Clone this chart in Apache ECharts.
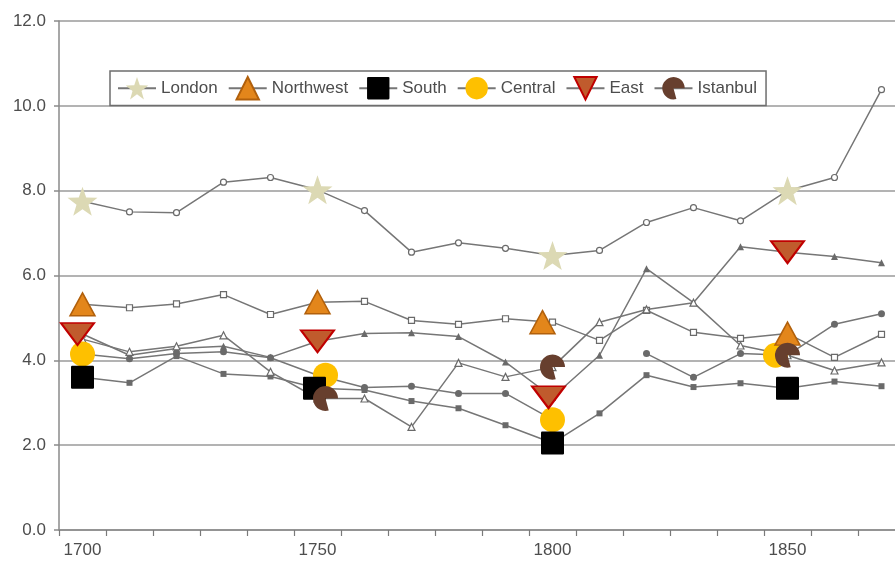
<!DOCTYPE html>
<html>
<head>
<meta charset="utf-8">
<title>Real wages 1700–1870</title>
<script src="https://cdn.jsdelivr.net/npm/echarts@6/dist/echarts.min.js"></script>
<style>
  html, body { margin: 0; padding: 0; background: #fff; }
  #chart { width: 895px; height: 561px; }
</style>
</head>
<body>
<div id="chart"></div>
<script>
// ---- data -------------------------------------------------------------
const years = ['1700','1710','1720','1730','1740','1750','1760','1770','1780',
               '1790','1800','1810','1820','1830','1840','1850','1860','1870'];
const labelYears = ['1700','1750','1800','1850'];
const yTicks = [0, 2, 4, 6, 8, 10, 12];

const london    = [7.75, 7.50, 7.48, 8.20, 8.31, 8.02, 7.53, 6.55, 6.77, 6.64, 6.47, 6.59, 7.25, 7.60, 7.29, 8.00, 8.31, 10.38];
const northwest = [5.32, 5.24, 5.33, 5.55, 5.08, 5.37, 5.39, 4.94, 4.85, 4.98, 4.90, 4.47, 5.18, 4.66, 4.52, 4.63, 4.07, 4.61];
const south     = [3.60, 3.47, 4.10, 3.68, 3.62, 3.34, 3.30, 3.04, 2.87, 2.47, 2.05, 2.75, 3.65, 3.37, 3.46, 3.34, 3.50, 3.39];
const central   = [4.15, 4.04, 4.16, 4.20, 4.06, 3.65, 3.36, 3.39, 3.22, 3.22, 2.60, null, 4.16, 3.60, 4.16, 4.12, 4.85, 5.10];
const east      = [4.62, 4.12, 4.28, 4.33, 4.07, 4.45, 4.63, 4.65, 4.56, 3.96, 3.13, 4.12, 6.16, 5.36, 6.68, 6.55, 6.45, 6.30];
const istanbul  = [4.50, 4.20, 4.33, 4.59, 3.73, 3.10, 3.10, 2.43, 3.94, 3.61, 3.84, 4.90, 5.20, 5.36, 4.35, 4.12, 3.76, 3.95];

// years that carry the large region marker
const keyYears      = ['1700','1750','1800','1850'];
const istanbulYears = ['1750','1800','1850'];

// ---- symbols & styles ---------------------------------------------------
const STAR = 'path://M0 -10L2.35 -3.24L9.51 -3.09L3.8 1.24L5.88 8.09L0 4L-5.88 8.09L-3.8 1.24L-9.51 -3.09L-2.35 -3.24Z';
const PIE  = 'path://M0 0L2.588 9.659A10 10 0 1 1 10 0Z';
const DOWN = 'path://M0 0L34 0L17 22Z';
const SQUARE = 'path://M1 0L19 0Q20 0 20 1L20 19Q20 20 19 20L1 20Q0 20 0 19L0 1Q0 0 1 0Z';

const FONT = 'Liberation Sans, Arial, sans-serif';
const TEXT = '#4d4d4d';
const LINE = '#767676';
const MARK = '#6a6a6a';

const looks = {
  London:    { big: { symbol: STAR, size: [30, 29], color: '#dcd9b4' },
               small: { symbol: 'circle', size: 6, hollow: true }, z: 4 },
  Northwest: { big: { symbol: 'triangle', size: [25, 23], color: '#e3861b', border: '#b1600c', bw: 1.5 },
               small: { symbol: 'rect', size: 6, hollow: true }, z: 4 },
  South:     { big: { symbol: SQUARE, size: 23, color: '#000000' },
               small: { symbol: 'rect', size: 6, hollow: false }, z: 4 },
  Central:   { big: { symbol: 'circle', size: 25, color: '#fec000' },
               small: { symbol: 'circle', size: 7, hollow: false }, z: 3 },
  East:      { big: { symbol: DOWN, size: [33, 22], color: '#c05b2d', border: '#c00000', bw: 2 },
               small: { symbol: 'triangle', size: 7, hollow: false }, z: 4 },
  Istanbul:  { big: { symbol: PIE, size: 25, color: '#673f2e' },
               small: { symbol: 'triangle', size: 7, hollow: true }, z: 5 }
};

// small sideways shifts where the large markers sit next to each other
const nudges = {
  Northwest: { '1800': [-10, 0] },
  South:     { '1750': [-3, 0] },
  Central:   { '1750': [8, 0], '1850': [-12, 0] },
  East:      { '1700': [-5, 0], '1800': [-4, 0] },
  Istanbul:  { '1750': [8, 0] }
};

const regions = [
  { name: 'London',    values: london,    marked: keyYears },
  { name: 'Northwest', values: northwest, marked: keyYears },
  { name: 'South',     values: south,     marked: keyYears },
  { name: 'Central',   values: central,   marked: keyYears },
  { name: 'East',      values: east,      marked: keyYears },
  { name: 'Istanbul',  values: istanbul,  marked: istanbulYears }
];

// ---- series -------------------------------------------------------------
const lineSeries = regions.map(r => {
  const lk = looks[r.name];
  const sm = lk.small;
  const smallStyle = sm.hollow
    ? { color: '#ffffff', borderColor: MARK, borderWidth: 1.2 }
    : { color: MARK, borderColor: MARK, borderWidth: 0 };
  return {
    type: 'line',
    name: r.name,
    z: 2,
    silent: true,
    showAllSymbol: true,
    connectNulls: false,
    // series-level symbol is the region marker (used for the legend icon)
    symbol: lk.big.symbol,
    symbolSize: lk.big.size,
    itemStyle: { color: lk.big.color, borderColor: lk.big.border || lk.big.color, borderWidth: lk.big.bw || 0 },
    lineStyle: { color: LINE, width: 1.5 },
    data: r.values.map(v => v == null ? '-' : {
      value: v,
      symbol: sm.symbol,
      symbolSize: sm.size,
      itemStyle: smallStyle
    })
  };
});

const markerSeries = regions.map(r => {
  const lk = looks[r.name];
  const nd = nudges[r.name] || {};
  return {
    type: 'scatter',
    name: r.name,
    z: lk.z,
    silent: true,
    symbol: lk.big.symbol,
    symbolSize: lk.big.size,
    itemStyle: { color: lk.big.color, borderColor: lk.big.border || lk.big.color, borderWidth: lk.big.bw || 0, opacity: 1 },
    data: r.marked.map(y => ({
      value: [y, r.values[years.indexOf(y)]],
      symbolOffset: nd[y] || [0, 0]
    }))
  };
});

// ---- chart --------------------------------------------------------------
const chart = echarts.init(document.getElementById('chart'), null, { renderer: 'canvas' });
chart.setOption({
  animation: false,
  backgroundColor: '#ffffff',
  textStyle: { fontFamily: FONT },
  // the plot runs on past the right edge of the canvas (last decade is cut off)
  grid: { left: 59, right: -10, top: 21, bottom: 31, containLabel: false, outerBoundsMode: 'none' },
  legend: {
    data: regions.map(r => r.name),
    left: 110,
    top: 71,
    orient: 'horizontal',
    itemWidth: 38,
    itemHeight: 28,
    itemGap: 10,
    padding: [5, 9, 5, 7],
    borderColor: '#6e6e6e',
    borderWidth: 1.5,
    backgroundColor: '#ffffff',
    selectedMode: false,
    textStyle: { fontSize: 17, color: TEXT, fontFamily: FONT }
  },
  xAxis: {
    type: 'category',
    data: years,
    boundaryGap: true,
    axisLine: { show: true, lineStyle: { color: '#8a8a8a', width: 1.5 } },
    axisTick: { show: true, interval: 0, length: 6, lineStyle: { color: '#7a7a7a', width: 1.2 } },
    axisLabel: {
      interval: (i, v) => labelYears.includes(v),
      fontSize: 17, color: TEXT, fontFamily: FONT, margin: 12
    },
    splitLine: { show: false }
  },
  yAxis: {
    type: 'value',
    min: yTicks[0],
    max: yTicks[yTicks.length - 1],
    interval: yTicks[1] - yTicks[0],
    axisLine: { show: true, lineStyle: { color: '#8a8a8a', width: 1.5 } },
    axisTick: { show: true, length: 5, lineStyle: { color: '#8a8a8a', width: 1.5 } },
    axisLabel: { formatter: v => v.toFixed(1), fontSize: 17, color: TEXT, fontFamily: FONT, margin: 13 },
    splitLine: { show: true, lineStyle: { color: '#9a9a9a', width: 1.5 } }
  },
  series: lineSeries.concat(markerSeries)
});
</script>
</body>
</html>
